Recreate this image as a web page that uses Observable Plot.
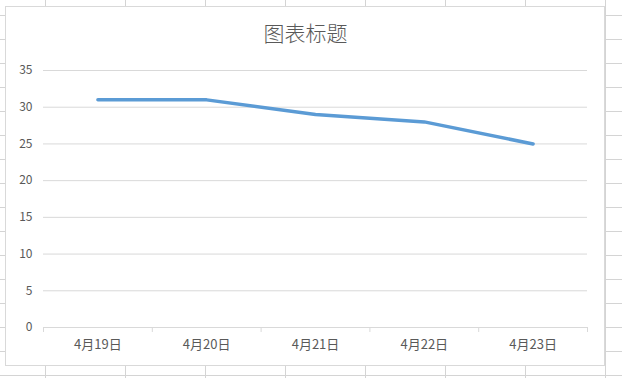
<!DOCTYPE html>
<html>
<head>
<meta charset="utf-8">
<script src="https://cdn.jsdelivr.net/npm/d3@7"></script>
<script src="https://cdn.jsdelivr.net/npm/@observablehq/plot@0.6"></script>
<style>
  html, body { margin: 0; padding: 0; }
  body { width: 622px; height: 378px; overflow: hidden; background: #fff; }
  #wrap {
    position: relative; width: 622px; height: 378px;
    background-color: #fff;
    background-image:
      linear-gradient(to right, #d4d4d4 1px, transparent 1px),
      linear-gradient(to bottom, #d4d4d4 1px, transparent 1px);
    background-size: 80px 24px;
    background-position: 45px 15px;
  }
  #box {
    position: absolute; left: 5px; top: 6px; width: 600px; height: 360px;
    box-sizing: border-box; border: 1px solid #d9d9d9; background: #fff;
  }
  #title {
    position: absolute; left: 0; width: 611px; top: 18px; text-align: center;
    font-family: "Noto Sans CJK SC", sans-serif; font-size: 21px; color: #595959;
    line-height: 28px; font-weight: 300;
  }
  #chart { position: absolute; left: 0; top: 0; }
</style>
</head>
<body>
<div id="wrap">
  <div id="box"></div>
  <div id="title">图表标题</div>
  <div id="chart"></div>
</div>
<script>
const categories = ["4月19日", "4月20日", "4月21日", "4月22日", "4月23日"];
const values = [31, 31, 29, 28, 25];
const yTicks = [0, 5, 10, 15, 20, 25, 30, 35];

const data = categories.map((c, i) => ({i, c, v: values[i]}));
const centers = categories.map((c, i) => i);
const bounds = d3.range(categories.length + 1).map(k => k - 0.5);

const chart = Plot.plot({
  width: 622,
  height: 378,
  marginLeft: 43,
  marginRight: 35,
  marginTop: 70,
  marginBottom: 51,
  style: {background: "transparent", fontFamily: "'Noto Sans CJK SC', sans-serif", fontSize: "12px", color: "#595959"},
  x: {domain: [-0.5, categories.length - 0.5], axis: null},
  y: {domain: [0, 35], axis: null},
  marks: [
    Plot.gridY(yTicks, {stroke: "#d9d9d9", strokeOpacity: 1, strokeWidth: 1}),
    Plot.axisX({ticks: bounds, tickSize: 5, tickFormat: () => "", stroke: "#d9d9d9", label: null}),
    Plot.axisX({ticks: centers, tickSize: 0, tickPadding: 12, tickFormat: i => categories[i], fill: "#595959", label: null, fontSize: 13}),
    Plot.axisY({ticks: yTicks, tickSize: 0, tickPadding: 11, fill: "#595959", label: null, fontSize: 12}),
    Plot.line(data, {x: "i", y: "v", stroke: "#5b9bd5", strokeWidth: 3.5, strokeLinecap: "round", strokeLinejoin: "round"})
  ]
});
document.getElementById("chart").appendChild(chart);
</script>
</body>
</html>
